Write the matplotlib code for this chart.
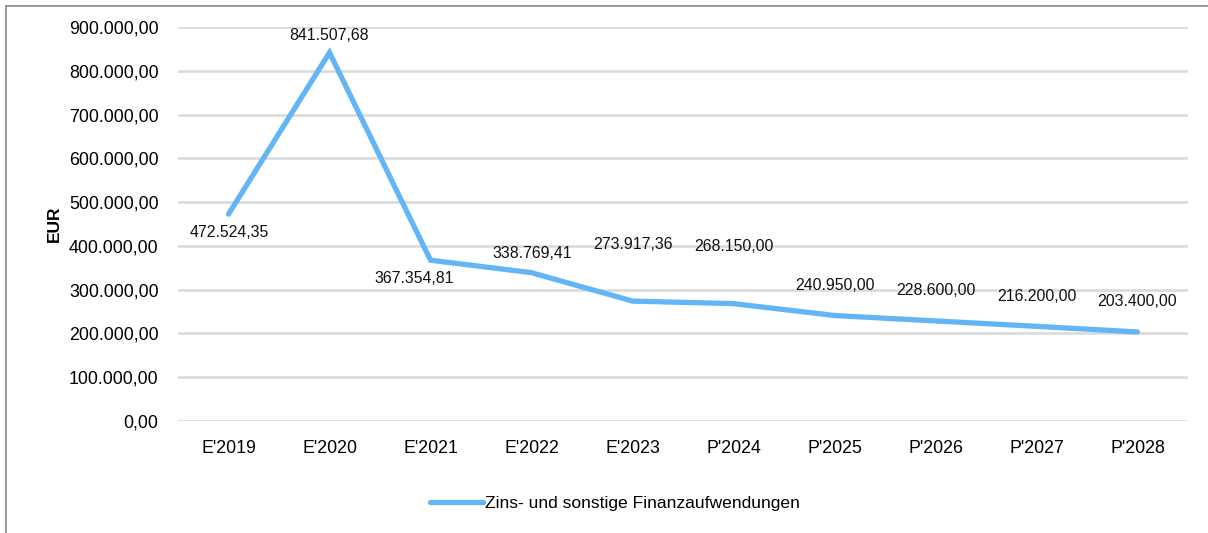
import matplotlib
matplotlib.use("Agg")
import matplotlib.pyplot as plt
from matplotlib.lines import Line2D

categories = ["E'2019", "E'2020", "E'2021", "E'2022", "E'2023",
              "P'2024", "P'2025", "P'2026", "P'2027", "P'2028"]
values = [472524.35, 841507.68, 367354.81, 338769.41, 273917.36,
          268150.00, 240950.00, 228600.00, 216200.00, 203400.00]
series_name = "Zins- und sonstige Finanzaufwendungen"
y_label = "EUR"

# label offsets in pixels (dx, dy), dy positive = downward
label_offsets = [(1, 18), (0, -17), (-16, 18), (1, -19), (0, -57),
                 (0, -57), (0, -30), (0, -30), (0, -30), (0, -30)]

plt.rcParams['font.family'] = ['Liberation Sans', 'DejaVu Sans']

def de(v):
    s = f"{v:,.2f}"
    return s.replace(",", "X").replace(".", ",").replace("X", ".")

W, H, DPI = 1208, 533, 100
fig = plt.figure(figsize=(W / DPI, H / DPI), dpi=DPI)
ax = fig.add_axes([178 / W, 1 - 421 / H, (1188 - 178) / W, (421 - 27) / H])

x = list(range(len(categories)))
color = "#63B5F5"
line, = ax.plot(x, values, color=color, lw=3.8, solid_capstyle="round",
                solid_joinstyle="miter", label=series_name, zorder=3)

ax.set_xlim(-0.5, len(categories) - 0.5)
ax.set_ylim(0, 900000)
ax.set_yticks(range(0, 900001, 100000))
ax.set_yticklabels([de(v) for v in range(0, 900001, 100000)], fontsize=12.8)
ax.set_xticks(x)
ax.set_xticklabels(categories, fontsize=12.8)
ax.tick_params(length=0)
ax.tick_params(axis='y', pad=14)
ax.tick_params(axis='x', pad=14)
ax.grid(axis='y', color="#D9D9D9", lw=1.8)
ax.set_axisbelow(True)
for s in ax.spines.values():
    s.set_visible(False)

ax.set_ylabel(y_label, fontsize=12.5, fontweight="bold", labelpad=5)

for xi, v, (dx, dy) in zip(x, values, label_offsets):
    ax.annotate(de(v), (xi, v), xytext=(dx * 0.72, -dy * 0.72),
                textcoords="offset points", ha="center", va="center",
                fontsize=11.4, color="#111111")

leg = fig.legend(handles=[line], loc="center", bbox_to_anchor=(615 / W, 1 - 503 / H),
                 frameon=False, fontsize=12.6, handlelength=3.0, handletextpad=0.15)

fig.add_artist(Line2D([6 / W, 6 / W], [0, 1 - 6 / H], color="#888888", lw=1.2))
fig.add_artist(Line2D([6 / W, 1], [1 - 6 / H, 1 - 6 / H], color="#888888", lw=1.2))

fig.savefig("out.png", dpi=DPI)
